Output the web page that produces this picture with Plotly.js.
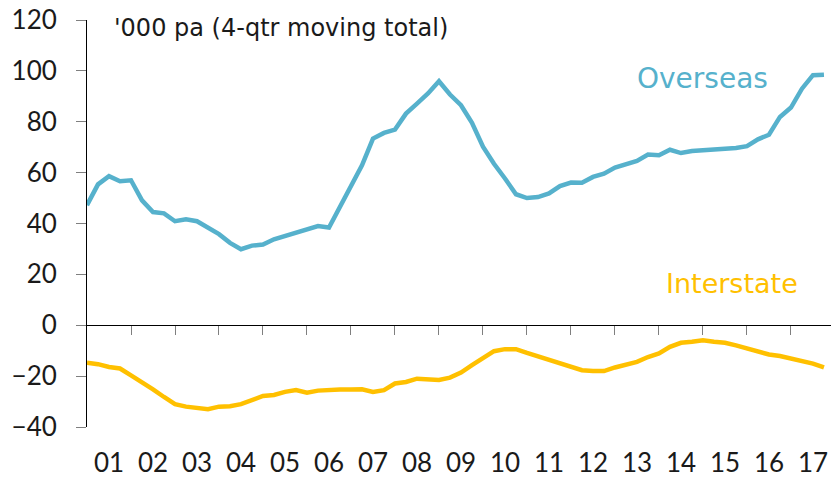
<!DOCTYPE html>
<html>
<head>
<meta charset="utf-8">
<script src="https://cdn.plot.ly/plotly-3.0.1.min.js"></script>
<style>html,body{margin:0;padding:0;background:#fff;}#chart{width:831px;height:481px;}</style>
</head>
<body>
<div id="chart"></div>
<script>
// Years covered (quarterly data, 2001 Q1 to 2017 Q4)
var years = [2001,2002,2003,2004,2005,2006,2007,2008,2009,2010,2011,2012,2013,2014,2015,2016,2017];
var yearLabels = ['01','02','03','04','05','06','07','08','09','10','11','12','13','14','15','16','17'];
var quarters = ['Q1','Q2','Q3','Q4'];

// '000 persons per annum, 4-quarter moving total
var overseas = [47.2,55.4,58.6,56.6,57.0,49.1,44.5,44.0,40.9,41.7,40.9,38.1,35.8,32.4,29.9,31.3,
  31.7,33.8,35.1,36.7,37.6,39.0,38.4,46.5,54.8,62.9,73.4,75.6,76.9,83.2,87.1,91.1,
  95.9,90.7,86.5,79.6,70.2,63.5,57.7,51.5,50.0,50.4,51.8,54.7,56.1,56.0,58.3,59.6,
  62.0,63.5,64.6,67.1,66.8,69.0,67.7,68.5,68.8,69.0,69.4,69.7,70.4,73.1,74.9,81.9,
  85.6,93.0,98.3,98.5];
var interstate = [-14.7,-15.3,-16.4,-17.0,-19.7,-22.3,-25.2,-28.2,-31.0,-32.0,-32.5,-33.0,-32.0,-31.8,-31.0,-29.5,
  -27.8,-27.4,-26.2,-25.5,-26.5,-25.7,-25.4,-25.3,-25.3,-25.2,-26.2,-25.5,-22.9,-22.3,-21.0,-21.2,
  -21.5,-20.6,-18.6,-15.7,-12.8,-10.2,-9.4,-9.4,-10.9,-12.2,-13.8,-15.1,-16.0,-17.7,-18.0,-18.0,
  -16.6,-15.5,-14.4,-12.5,-11.1,-8.5,-6.9,-6.5,-5.9,-6.5,-6.9,-7.9,-9.2,-10.5,-11.5,-12.1,
  -13.1,-14.1,-15.1,-16.6];

var xq = [];
years.forEach(function(y){ quarters.forEach(function(q, k){ xq.push(y + k/4); }); });
var labelPos = years.map(function(y){ return y + 0.5; });

var FONT = 'Lato, "Open Sans", sans-serif';
var TFONT = '"DejaVu Sans", sans-serif';
var BLUE = '#56B1CC';
var GOLD = '#FFC000';
var xRange = [2001, 2017.91];

var traces = [
  {x: xq, y: overseas, type: 'scatter', mode: 'lines', name: 'Overseas',
   line: {color: BLUE, width: 4.5}, xaxis: 'x', yaxis: 'y', hoverinfo: 'skip'},
  {x: xq, y: interstate, type: 'scatter', mode: 'lines', name: 'Interstate',
   line: {color: GOLD, width: 4.5}, xaxis: 'x2', yaxis: 'y', hoverinfo: 'skip'}
];

var layout = {
  width: 831, height: 481,
  margin: {l: 87, r: 0, t: 20, b: 54},
  paper_bgcolor: '#fff', plot_bgcolor: '#fff',
  showlegend: false,
  font: {family: FONT, color: '#1a1a1a'},
  xaxis: {
    range: xRange, showgrid: false, zeroline: false, showline: false,
    ticks: '', tickmode: 'array', tickvals: labelPos, ticktext: yearLabels,
    tickfont: {size: 26, family: FONT, color: '#1a1a1a'},
    ticklabelstandoff: 18, fixedrange: true
  },
  xaxis2: {
    overlaying: 'x', anchor: 'free', position: 0.25, side: 'bottom',
    range: xRange, showgrid: false, zeroline: false, showline: false,
    ticks: 'outside', ticklen: 9, tickwidth: 1, tickcolor: '#7f7f7f',
    tickmode: 'array', tickvals: years.slice(1), showticklabels: false, fixedrange: true
  },
  yaxis: {
    range: [-40, 120], tickmode: 'array', tickvals: [-40,-20,0,20,40,60,80,100,120],
    showgrid: false, zeroline: true, zerolinecolor: '#000', zerolinewidth: 1,
    showline: true, linecolor: '#000', linewidth: 1,
    ticks: 'outside', ticklen: 10, tickwidth: 1, tickcolor: '#7f7f7f',
    tickfont: {size: 26, family: FONT, color: '#1a1a1a'},
    ticklabelstandoff: 14, fixedrange: true
  },
  annotations: [
    {text: "'000 pa (4-qtr moving total)", xref: 'paper', yref: 'paper', x: 0.034, y: 0.98,
     xanchor: 'left', yanchor: 'middle', showarrow: false,
     font: {size: 24, family: TFONT, color: '#1a1a1a'}},
    {text: 'Overseas', xref: 'x', yref: 'y', x: 2014.98, y: 97.1, xanchor: 'center', yanchor: 'middle',
     showarrow: false, font: {size: 28, family: TFONT, color: BLUE}},
    {text: 'Interstate', xref: 'x', yref: 'y', x: 2015.67, y: 16.5, xanchor: 'center', yanchor: 'middle',
     showarrow: false, font: {size: 27, family: TFONT, color: GOLD}}
  ]
};

Plotly.newPlot('chart', traces, layout, {displayModeBar: false, staticPlot: true});
</script>
</body>
</html>
